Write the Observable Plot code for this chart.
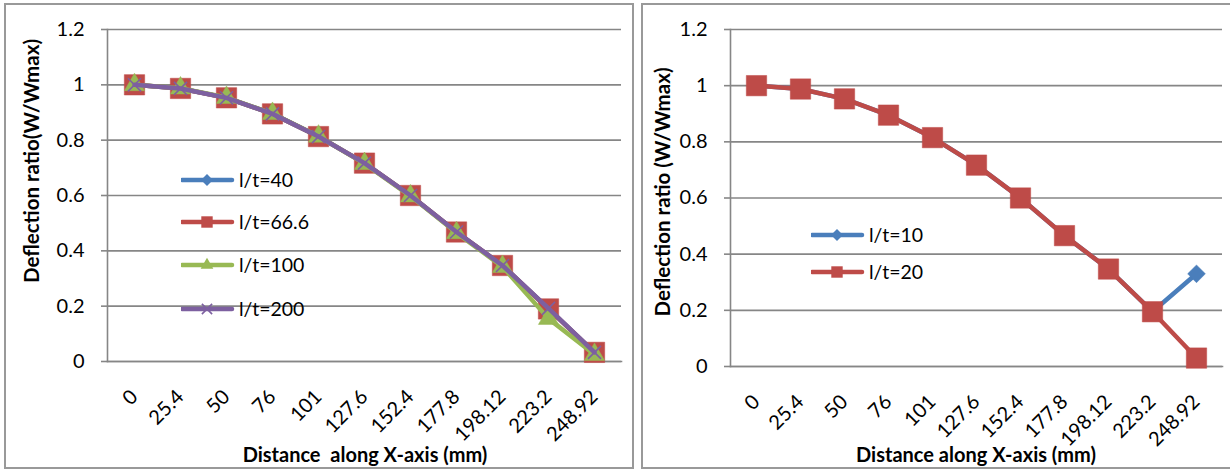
<!DOCTYPE html>
<html>
<head>
<meta charset="utf-8">
<script src="https://cdn.jsdelivr.net/npm/d3@7"></script>
<script src="https://cdn.jsdelivr.net/npm/@observablehq/plot@0.6"></script>
<style>
  html, body { margin: 0; padding: 0; background: #fff; }
  body { width: 1230px; height: 470px; position: relative; overflow: hidden; font-family: Lato, "Open Sans", sans-serif; }
  .abs { position: absolute; }
  .border { position: absolute; border: 2px solid #999; box-sizing: border-box; pointer-events: none; z-index: 5; }
  .ytitle { position: absolute; font-weight: bold; font-size: 20.5px; white-space: pre; transform: translate(-50%, -50%) rotate(-90deg); color: #000; }
  .xtitle { position: absolute; font-weight: bold; font-size: 20px; white-space: pre; transform: translate(-50%, -50%); color: #000; }
  .legend { position: absolute; z-index: 6; font-size: 19.5px; color: #000; }
  .legend .row { position: absolute; left: 0; display: flex; align-items: center; white-space: nowrap; }
  .legend svg { display: block; }
</style>
</head>
<body>
<script>
// ---- data ----
const distances = ["0", "25.4", "50", "76", "101", "127.6", "152.4", "177.8", "198.12", "223.2", "248.92"];
const yTicks = [0, 0.2, 0.4, 0.6, 0.8, 1, 1.2];

// left chart series
const lt40  = [1, 0.987, 0.953, 0.895, 0.813, 0.717, 0.600, 0.468, 0.347, 0.190, 0.033];
const lt66  = [1, 0.987, 0.953, 0.895, 0.813, 0.717, 0.600, 0.468, 0.347, 0.190, 0.033];
const lt100 = [1, 0.988, 0.954, 0.896, 0.814, 0.715, 0.598, 0.465, 0.343, 0.155, 0.025];
const lt200 = [1, 0.987, 0.953, 0.895, 0.813, 0.717, 0.600, 0.468, 0.347, 0.192, 0.033];
const leftNames = ["l/t=40", "l/t=66.6", "l/t=100", "l/t=200"];

// right chart series
const lt10 = [1, 0.988, 0.953, 0.895, 0.815, 0.717, 0.600, 0.466, 0.347, 0.195, 0.330];
const lt20 = [1, 0.988, 0.953, 0.895, 0.815, 0.717, 0.600, 0.466, 0.347, 0.195, 0.030];
const rightNames = ["l/t=10", "l/t=20"];

const blue = "#4A7EBB", red = "#BE4B48", green = "#98B954", purple = "#7D60A0";

const styles = {
  diamond: {symbol: "diamond2", r: 8, fill: true},
  square:  {symbol: "square", r: 11.5, fill: true},
  triangle:{symbol: "triangle", r: 7.5, fill: true},
  times:   {symbol: "times", r: 6, fill: false}
};

function seriesMarks(vals, color, kind) {
  const s = styles[kind];
  const pos = {x: (d, i) => distances[i], y: d => d};
  return [
    Plot.line(vals, {...pos, stroke: color, strokeWidth: 4.5, strokeLinejoin: "round", strokeLinecap: "round"}),
    s.fill
      ? Plot.dot(vals, {...pos, symbol: s.symbol, r: s.r, fill: color, stroke: color, strokeWidth: 0.5})
      : Plot.dot(vals, {...pos, symbol: s.symbol, r: s.r, fill: "none", stroke: color, strokeWidth: 1.6})
  ];
}

function panel({width, marginLeft, marginRight, marginBottom, series}) {
  return Plot.plot({
    width, height: 470,
    marginLeft, marginRight, marginTop: 29, marginBottom,
    style: {fontFamily: "Lato, 'Open Sans', sans-serif", fontSize: "20px", background: "transparent", color: "#000", overflow: "visible"},
    x: {type: "point", domain: distances, padding: 0.5, label: null},
    y: {domain: [0, 1.2], label: null},
    marks: [
      Plot.gridY(yTicks, {stroke: "#868686", strokeOpacity: 1, strokeWidth: 1.6}),
      Plot.frame({anchor: "left", stroke: "#868686", strokeWidth: 1.6}),
      Plot.frame({anchor: "bottom", stroke: "#868686", strokeWidth: 1.6}),
      Plot.axisY(yTicks, {tickSize: 6, tickPadding: 17, stroke: "#868686", strokeWidth: 1.6, fill: "#000", fontSize: 20, tickFormat: d => String(d), label: null}),
      Plot.axisX({tickRotate: -45, tickSize: 0, tickPadding: 32, dx: 0, fill: "#000", fontSize: 20, label: null}),
      ...series.flatMap(s => seriesMarks(s.vals, s.color, s.kind))
    ]
  });
}

function place(el, left, top) {
  const d = document.createElement("div");
  d.className = "abs";
  d.style.left = left + "px";
  d.style.top = top + "px";
  d.appendChild(el);
  document.body.appendChild(d);
  return d;
}

function addDiv(cls, text, left, top) {
  const d = document.createElement("div");
  d.className = cls;
  d.textContent = text;
  d.style.left = left + "px";
  d.style.top = top + "px";
  document.body.appendChild(d);
}

function legendSymbol(kind, color) {
  const ns = "http://www.w3.org/2000/svg";
  const svg = document.createElementNS(ns, "svg");
  svg.setAttribute("width", 58); svg.setAttribute("height", 20);
  const line = document.createElementNS(ns, "line");
  line.setAttribute("x1", 1); line.setAttribute("x2", 51);
  line.setAttribute("y1", 10); line.setAttribute("y2", 10);
  line.setAttribute("stroke", color); line.setAttribute("stroke-width", 4.5);
  line.setAttribute("stroke-linecap", "round");
  svg.appendChild(line);
  const map = {diamond: d3.symbolDiamond2, square: d3.symbolSquare, triangle: d3.symbolTriangle, times: d3.symbolTimes};
  const sizes = {diamond: 90, square: 130, triangle: 70, times: 70};
  const p = document.createElementNS(ns, "path");
  p.setAttribute("d", d3.symbol(map[kind], sizes[kind])());
  p.setAttribute("transform", "translate(26,10)");
  if (kind === "times") { p.setAttribute("fill", "none"); p.setAttribute("stroke", color); p.setAttribute("stroke-width", 1.6); }
  else { p.setAttribute("fill", color); }
  svg.appendChild(p);
  return svg;
}

function legend(left, items) {
  const lg = document.createElement("div");
  lg.className = "legend";
  lg.style.left = left + "px";
  lg.style.top = "0px";
  items.forEach(it => {
    const r = document.createElement("div");
    r.className = "row";
    r.style.top = (it.cy - 12) + "px";
    r.appendChild(legendSymbol(it.kind, it.color));
    const t = document.createElement("span");
    t.textContent = it.name;
    r.appendChild(t);
    lg.appendChild(r);
  });
  document.body.appendChild(lg);
}

// left chart
const leftSeries = [
  {vals: lt40, color: blue, kind: "diamond"},
  {vals: lt66, color: red, kind: "square"},
  {vals: lt100, color: green, kind: "triangle"},
  {vals: lt200, color: purple, kind: "times"}
];
place(panel({width: 640, marginLeft: 107, marginRight: 19, marginBottom: 109, series: leftSeries}), 0, 0);

// right chart
const rightSeries = [
  {vals: lt10, color: blue, kind: "diamond"},
  {vals: lt20, color: red, kind: "square"}
];
place(panel({width: 590, marginLeft: 90, marginRight: 8, marginBottom: 104, series: rightSeries}), 640, 0);

// borders
const b1 = document.createElement("div"); b1.className = "border";
Object.assign(b1.style, {left: "4px", top: "3px", width: "630px", height: "466px"});
document.body.appendChild(b1);
const b2 = document.createElement("div"); b2.className = "border";
Object.assign(b2.style, {left: "641px", top: "3px", width: "600px", height: "466px"});
document.body.appendChild(b2);

// axis titles
addDiv("ytitle", "Deflection ratio(W/Wmax)", 31, 161);
addDiv("ytitle", "Deflection ratio (W/Wmax)", 662, 192);
addDiv("xtitle", "Distance  along X-axis (mm)", 365, 454);
addDiv("xtitle", "Distance along X-axis (mm)", 976, 454);

// legends
legend(181, [
  {name: leftNames[0], kind: "diamond", color: blue, cy: 180},
  {name: leftNames[1], kind: "square", color: red, cy: 222},
  {name: leftNames[2], kind: "triangle", color: green, cy: 265},
  {name: leftNames[3], kind: "times", color: purple, cy: 309}
]);
legend(811, [
  {name: rightNames[0], kind: "diamond", color: blue, cy: 235},
  {name: rightNames[1], kind: "square", color: red, cy: 272}
]);
</script>
</body>
</html>
